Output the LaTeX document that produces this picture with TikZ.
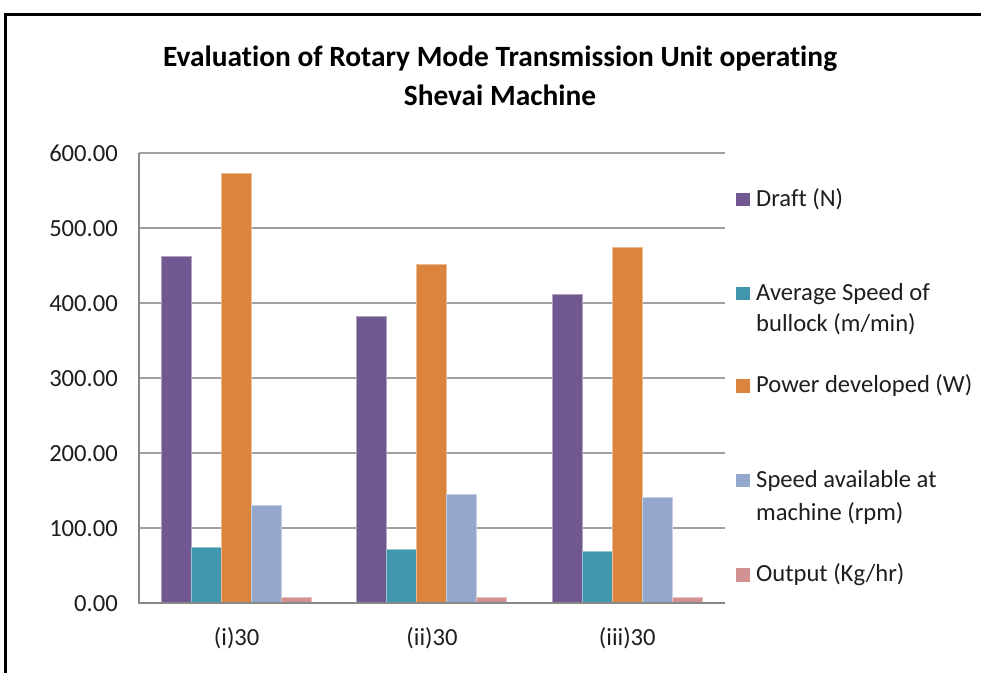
\documentclass[tikz,border=0pt]{standalone}
\usepackage{fontspec}
\setmainfont[Ligatures=NoCommon]{Carlito}
\definecolor{cDraft}{RGB}{114,88,144}
\definecolor{cSpeed}{RGB}{66,151,175}
\definecolor{cPower}{RGB}{219,132,61}
\definecolor{cMach}{RGB}{148,168,206}
\definecolor{cOut}{RGB}{210,146,146}
\definecolor{cGrid}{RGB}{160,160,160}
\definecolor{cText}{RGB}{30,30,30}
\tikzset{
  gridline/.style={draw=cGrid, line width=1.4pt},
  axisline/.style={draw=cGrid!85!black, line width=1.4pt},
  bar/.style={fill=#1, draw=#1!55!white, line width=0.7pt},
  ticklab/.style={anchor=base east, inner sep=0pt, font=\fontsize{24.6}{29}\selectfont, text=cText},
  catlab/.style={anchor=base, inner sep=0pt, font=\fontsize{24.6}{29}\selectfont, text=cText},
  leglab/.style={anchor=base west, inner sep=0pt, font=\fontsize{24.6}{29}\selectfont, text=cText},
  legkey/.style={fill=#1, draw=none},
  titlelab/.style={anchor=base, inner sep=0pt, font=\fontsize{29.4}{35}\selectfont\bfseries, text=black},
}
\begin{document}
\begin{tikzpicture}[x=1pt,y=-1pt]
\useasboundingbox (0,0) rectangle (981,673);
\fill[white] (0,0) rectangle (981,673);
% frame
\draw[line width=2.4pt, black] (5.5,673) -- (5.5,14.5) -- (981,14.5);
% title
\node[titlelab] (t1) at (500,66) {Evaluation of Rotary Mode Transmission Unit operating};
\node[titlelab] (t2) at (500,105) {Shevai Machine};
% gridlines
\foreach \v in {1,...,6} {
  \draw[gridline] (139,{603-75*\v}) -- (725,{603-75*\v});
}
% bars
\foreach \c/\a/\b/\d/\e/\f in {0/462.5/74/573/130/7.5, 1/382/71/451.5/145/7.5, 2/412/69.5/474.5/140.5/7.5} {
  \pgfmathsetmacro{\xo}{139+195.33*\c+22.3}
  \path[bar=cDraft] (\xo,603) rectangle ({\xo+30},{603-0.75*\a});
  \path[bar=cSpeed] ({\xo+30},603) rectangle ({\xo+60},{603-0.75*\b});
  \path[bar=cPower] ({\xo+60},603) rectangle ({\xo+90},{603-0.75*\d});
  \path[bar=cMach] ({\xo+90},603) rectangle ({\xo+120},{603-0.75*\e});
  \path[bar=cOut] ({\xo+120},603) rectangle ({\xo+150},{603-0.75*\f});
}
% axes
\draw[axisline] (139,152.5) -- (139,603) -- (725,603);
% tick labels
\node[ticklab] (y0) at (118,611) {0.00};
\node[ticklab] (y1) at (118,536) {100.00};
\node[ticklab] (y2) at (118,461) {200.00};
\node[ticklab] (y3) at (118,386) {300.00};
\node[ticklab] (y4) at (118,311) {400.00};
\node[ticklab] (y5) at (118,236) {500.00};
\node[ticklab] (y6) at (118,161) {600.00};
% category labels
\node[catlab] (c1) at (236.7,645) {(i)30};
\node[catlab] (c2) at (432,645) {(ii)30};
\node[catlab] (c3) at (627.3,645) {(iii)30};
% legend
\path[legkey=cDraft] (736,192.5) rectangle (749.5,206);
\node[leglab] (l1) at (756,206) {Draft (N)};
\path[legkey=cSpeed] (736,286.5) rectangle (749.5,300);
\node[leglab] (l2a) at (756,300) {Average Speed of};
\node[leglab] (l2b) at (756,331.7) {bullock (m/min)};
\path[legkey=cPower] (736,379.2) rectangle (749.5,392.7);
\node[leglab] (l3) at (756,392.7) {Power developed (W)};
\path[legkey=cMach] (736,473.8) rectangle (749.5,487.3);
\node[leglab] (l4a) at (756,487.3) {Speed available at};
\node[leglab] (l4b) at (756,520) {machine (rpm)};
\path[legkey=cOut] (736,568.2) rectangle (749.5,581.7);
\node[leglab] (l5) at (756,581.7) {Output (Kg/hr)};
\end{tikzpicture}
\end{document}
